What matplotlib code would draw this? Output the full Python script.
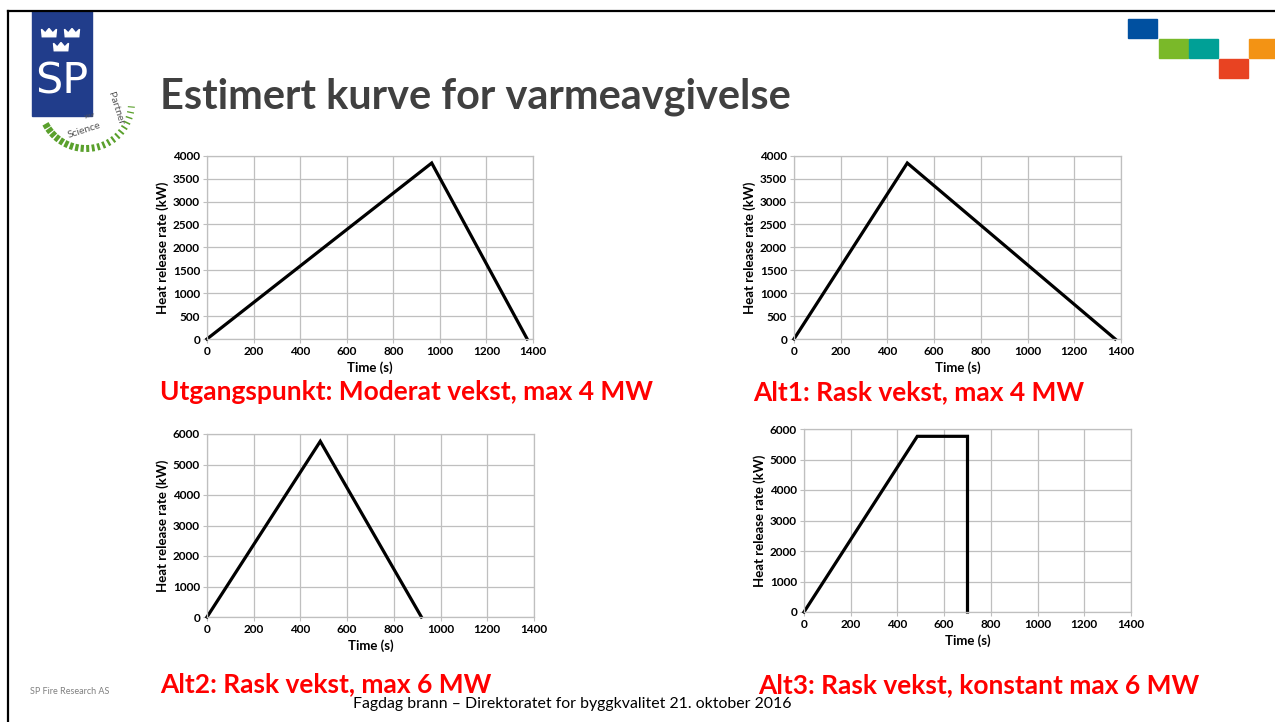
import matplotlib
matplotlib.use("Agg")
import matplotlib.pyplot as plt
from matplotlib.patches import Rectangle, Polygon
import numpy as np

plt.rcParams['font.family'] = ['Lato', 'DejaVu Sans']

# data
t_base = [0, 965, 1375]
q_base = [0, 3840, 0]
t_alt1 = [0, 485, 1375]
q_alt1 = [0, 3840, 0]
t_alt2 = [0, 485, 918]
q_alt2 = [0, 5760, 0]
t_alt3 = [0, 485, 700, 700]
q_alt3 = [0, 5760, 5760, 0]

x_ticks = [0, 200, 400, 600, 800, 1000, 1200, 1400]
y_ticks_4 = [0, 500, 1000, 1500, 2000, 2500, 3000, 3500, 4000]
y_ticks_6 = [0, 1000, 2000, 3000, 4000, 5000, 6000]

title = "Estimert kurve for varmeavgivelse"
captions = ["Utgangspunkt: Moderat vekst, max 4 MW",
            "Alt1: Rask vekst, max 4 MW",
            "Alt2: Rask vekst, max 6 MW",
            "Alt3: Rask vekst, konstant max 6 MW"]
footer = "Fagdag brann \u2013 Direktoratet for byggkvalitet 21. oktober 2016"

W, H = 1275, 722
fig = plt.figure(figsize=(W / 100, H / 100), dpi=100)
fig.patch.set_facecolor('white')

# overlay in pixel coords for slide decoration
bg = fig.add_axes([0, 0, 1, 1])
bg.set_xlim(0, W)
bg.set_ylim(H, 0)
bg.axis('off')

# slide frame
bg.plot([7.5, 7.5], [10.5, H], color='black', lw=1.6)
bg.plot([7.5, W], [10.5, 10.5], color='black', lw=1.6)

# SP logo
bg.add_patch(Rectangle((32, 11), 60, 105, color='#213d8b'))
def crown(cx, cy, s=1.0):
    pts = np.array([(-9, 5), (9, 5), (10, -5), (5, 0), (0, -6), (-5, 0), (-10, -5)]) * s
    pts[:, 0] += cx
    pts[:, 1] += cy
    bg.add_patch(Polygon(pts, closed=True, color='white'))
crown(49, 33, 0.75)
crown(72, 33, 0.75)
crown(61, 47, 0.75)
bg.text(62, 81, "SP", color='white', fontsize=31, ha='center', va='center',
        family='DejaVu Sans')

# green arc of "your Science Partner"
cx, cy = 86, 103
for i, ang in enumerate(np.linspace(150, 5, 22)):
    a = np.deg2rad(ang)
    r0, r1 = 42, 49
    w = 3.2 - 2.4 * i / 21
    bg.plot([cx + r0 * np.cos(a), cx + r1 * np.cos(a)],
            [cy + r0 * np.sin(a), cy + r1 * np.sin(a)],
            color='#5aa02c', lw=w, solid_capstyle='butt')
bg.text(84, 130, "Science", fontsize=7.5, color='#555555', rotation=18,
        ha='center', va='center')
bg.text(116, 108, "Partner", fontsize=7.5, color='#555555', rotation=-72,
        ha='center', va='center')
bg.text(90, 116, "your", fontsize=4, color='#555555', rotation=10,
        ha='center', va='center')

# coloured squares top right
squares = [(1128, 19, '#0050a0'), (1159, 39, '#7ab929'), (1189, 39, '#00a096'),
           (1219, 59, '#e84322'), (1249, 39, '#f39314')]
for x0, y0, c in squares:
    bg.add_patch(Rectangle((x0, y0), 29, 19, color=c))

bg.text(160, 97, title, fontsize=29.9, fontweight='bold', color='#404040',
        ha='left', va='center')

bg.text(30, 692, "SP Fire Research AS", fontsize=6.5, color='#808080',
        ha='left', va='center')
bg.text(572, 704, footer, fontsize=11.4, color='black', ha='center', va='center')

cap_pos = [(160, 392), (753, 392), (160, 684), (758, 685)]
for (x0, y0), txt in zip(cap_pos, captions):
    bg.text(x0, y0, txt, fontsize=19, fontweight='bold', color='#ff0000',
            ha='left', va='center')


def panel(rect, t, q, ymax, yticks):
    ax = fig.add_axes(rect)
    ax.plot(t, q, color='black', lw=2.3, clip_on=False, solid_joinstyle='miter')
    ax.set_xlim(0, 1400)
    ax.set_ylim(0, ymax)
    ax.set_xticks(x_ticks)
    ax.set_yticks(yticks)
    ax.grid(True, color='#bfbfbf', lw=0.9)
    ax.set_axisbelow(True)
    for s in ax.spines.values():
        s.set_color('#bfbfbf')
        s.set_linewidth(0.9)
    ax.tick_params(length=3, width=0.8, color='#bfbfbf', labelsize=8.5, pad=2)
    for lab in ax.get_xticklabels() + ax.get_yticklabels():
        lab.set_fontweight('bold')
    ax.set_xlabel("Time (s)", fontsize=9.5, fontweight='bold', labelpad=3)
    ax.set_ylabel("Heat release rate (kW)", fontsize=9.5, fontweight='bold', labelpad=3)
    return ax


def frac(left, top, right, bottom):
    return [left / W, 1 - bottom / H, (right - left) / W, (bottom - top) / H]


panel(frac(207, 155.7, 533, 339), t_base, q_base, 4000, y_ticks_4)
panel(frac(794, 155.7, 1121, 339), t_alt1, q_alt1, 4000, y_ticks_4)
panel(frac(207, 434, 534, 617), t_alt2, q_alt2, 6000, y_ticks_6)
panel(frac(804, 429, 1131, 612), t_alt3, q_alt3, 6000, y_ticks_6)

fig.savefig("out.png", dpi=100)
